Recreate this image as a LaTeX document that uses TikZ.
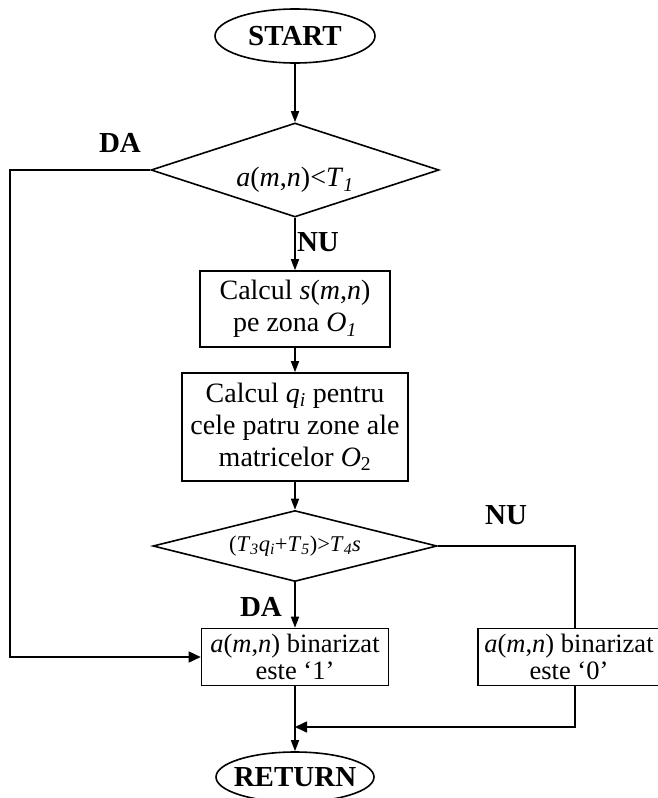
\documentclass[tikz,border=0pt]{standalone}
\usepackage{fontspec}
\setmainfont{Liberation Serif}
\usetikzlibrary{shapes.geometric,arrows.meta}
\newcommand{\mvar}[1]{\textit{#1}}
\tikzset{
  flow/.style={line width=1.6pt},
  arr/.style={flow,-{Triangle[length=11pt,width=8pt]}},
  bigarr/.style={flow,-{Triangle[length=12pt,width=11pt]}},
  terminal/.style={ellipse,draw,line width=1.6pt,inner xsep=-8pt,inner ysep=0pt,
    font=\fontsize{29}{32}\selectfont\bfseries},
  procbox/.style={rectangle,draw,line width=1.6pt,inner sep=0pt,align=center,
    font=\fontsize{28}{32}\selectfont},
  smallbox/.style={procbox,font=\fontsize{26.5}{27}\selectfont},
  decision/.style={diamond,draw,line width=1.6pt,inner sep=0pt},
  answer/.style={font=\fontsize{29}{32}\selectfont\bfseries,inner sep=0pt},
}
\begin{document}
\begin{tikzpicture}[x=1pt,y=-1pt]
\useasboundingbox (0,0) rectangle (658,798);
\clip (0,0) rectangle (658,798);

% terminals
\node[terminal,minimum width=160pt,minimum height=54pt] (start) at (295,36) {START};
\node[terminal,minimum width=158pt,minimum height=50pt] (ret) at (295,777) {RETURN};

% decisions
\node[decision,aspect=3.06,minimum width=288pt,minimum height=94pt,
  label={[font=\fontsize{28}{32}\selectfont,yshift=-10pt]center:\mvar{a}(\mvar{m},\mvar{n})<\mvar{T}\textsubscript{\mvar{1}}}]
  (d1) at (295,170) {};
\node[decision,aspect=4,minimum width=284pt,minimum height=71pt,font=\fontsize{22.5}{24}\selectfont]
  (d2) at (295,546) {(\mvar{T}\textsubscript{\mvar{3}}\mvar{q}\textsubscript{\mvar{i}}+\mvar{T}\textsubscript{\mvar{5}})>\mvar{T}\textsubscript{\mvar{4}}\mvar{s}};

% processing boxes
\node[procbox,minimum width=190pt,minimum height=76pt] (b1) at (295,309)
  {Calcul \mvar{s}(\mvar{m},\mvar{n})\\pe zona \mvar{O}\textsubscript{\mvar{1}}};
\node[procbox,minimum width=226pt,minimum height=108pt] (b2) at (295,427)
  {Calcul \mvar{q}\textsubscript{\mvar{i}} pentru\\cele patru zone ale\\matricelor \mvar{O}\textsubscript{2}};
\node[smallbox,minimum width=187pt,minimum height=57pt] (b3) at (295,657)
  {\mvar{a}(\mvar{m},\mvar{n}) binarizat\\este ‘1’};
\node[smallbox,minimum width=182pt,minimum height=57pt] (b4) at (569,657)
  {\mvar{a}(\mvar{m},\mvar{n}) binarizat\\este ‘0’};

% branch labels
\node[answer] (da1) at (120,143) {DA};
\node[answer] (nu1) at (318,242) {NU};
\node[answer] (da2) at (261,607) {DA};
\node[answer] (nu2) at (506,515) {NU};

% routing points
\coordinate (lt) at (10,170);
\coordinate (lb) at (10,657);
\coordinate (rt) at (575,546);
\coordinate (rb) at (575,727);
\coordinate (mj) at (295,727);

% main flow
\draw[arr] (start) -- (d1.north);
\draw[arr] (d1.south) -- (b1.north);
\draw[arr] (b1.south) -- (b2.north);
\draw[arr] (b2.south) -- (d2.north);
\draw[arr] (d2.south) -- (b3.north);
\draw[arr] (b3.south) -- (ret.north);

% DA branch of the first test
\draw[bigarr] (d1.west) -- (lt) -- (lb) -- (b3.west);

% NU branch of the second test
\draw[flow] (d2.east) -- (rt) -- (rt |- b4.north);
\draw[bigarr] (rt |- b4.south) -- (rb) -- (mj);
\end{tikzpicture}
\end{document}
